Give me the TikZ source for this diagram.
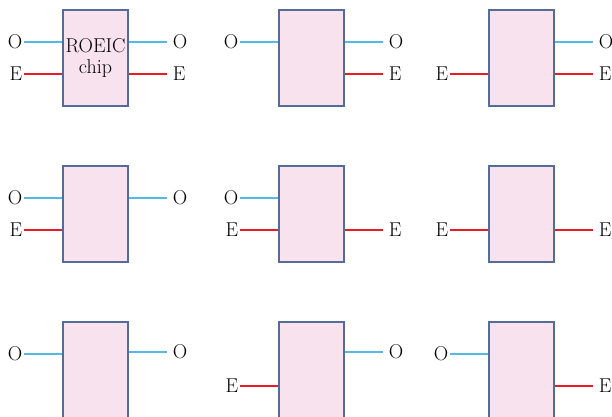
\documentclass[tikz,border=0pt]{standalone}
\usepackage{tikz}
\usetikzlibrary{positioning,calc}
\definecolor{chippink}{RGB}{248,226,238}
\definecolor{chipedge}{RGB}{84,108,152}
\definecolor{ocol}{RGB}{86,184,230}
\definecolor{ecol}{RGB}{232,28,36}
\tikzset{
  chip/.style ={draw=chipedge, fill=chippink, line width=1.2pt, minimum width=65pt, minimum height=96pt, inner sep=0pt, align=center, font=\fontsize{20}{21}\selectfont},
  lbl/.style  ={inner sep=0pt, font=\fontsize{20}{21}\selectfont},
  lin/.style  ={lbl, anchor=east, inner xsep=2pt},
  lout/.style ={lbl, anchor=west, inner xsep=6pt},
  oline/.style={draw=ocol, line width=1.3pt},
  eline/.style={draw=ecol, line width=1.3pt},
}

\begin{document}
\begin{tikzpicture}[x=1pt, y=-1pt]
  \useasboundingbox (0,0) rectangle (612,416);
  \clip (0,0) rectangle (612,416);

  % row 1
  \node[chip] (c11) at (95.5,58)  {ROEIC\\chip};
  \node[chip] (c12) at (311.5,58) {};
  \node[chip] (c13) at (521.5,58) {};

  \node[lin]  (c11-iO) at ($(c11.west)+(-38,-16)$) {O};
  \node[lin]  (c11-iE) at ($(c11.west)+(-38,16)$)  {E};
  \node[lout] (c11-oO) at ($(c11.east)+(38,-16)$)  {O};
  \node[lout] (c11-oE) at ($(c11.east)+(38,16)$)   {E};
  \draw[oline] (c11-iO) -- (c11-iO -| c11.west);
  \draw[eline] (c11-iE) -- (c11-iE -| c11.west);
  \draw[oline] (c11.east |- c11-oO) -- (c11-oO);
  \draw[eline] (c11.east |- c11-oE) -- (c11-oE);

  \node[lin]  (c12-iO) at ($(c12.west)+(-38,-16)$) {O};
  \node[lout] (c12-oO) at ($(c12.east)+(38,-16)$)  {O};
  \node[lout] (c12-oE) at ($(c12.east)+(38,16)$)   {E};
  \draw[oline] (c12-iO) -- (c12-iO -| c12.west);
  \draw[oline] (c12.east |- c12-oO) -- (c12-oO);
  \draw[eline] (c12.east |- c12-oE) -- (c12-oE);

  \node[lin]  (c13-iE) at ($(c13.west)+(-38,16)$)  {E};
  \node[lout] (c13-oO) at ($(c13.east)+(38,-16)$)  {O};
  \node[lout] (c13-oE) at ($(c13.east)+(38,16)$)   {E};
  \draw[eline] (c13-iE) -- (c13-iE -| c13.west);
  \draw[oline] (c13.east |- c13-oO) -- (c13-oO);
  \draw[eline] (c13.east |- c13-oE) -- (c13-oE);

  % row 2
  \node[chip] (c21) at (95.5,214)  {};
  \node[chip] (c22) at (311.5,214) {};
  \node[chip] (c23) at (521.5,214) {};

  \node[lin]  (c21-iO) at ($(c21.west)+(-38,-16)$) {O};
  \node[lin]  (c21-iE) at ($(c21.west)+(-38,16)$)  {E};
  \node[lout] (c21-oO) at ($(c21.east)+(38,-16)$)  {O};
  \draw[oline] (c21-iO) -- (c21-iO -| c21.west);
  \draw[eline] (c21-iE) -- (c21-iE -| c21.west);
  \draw[oline] (c21.east |- c21-oO) -- (c21-oO);

  \node[lin]  (c22-iO) at ($(c22.west)+(-38,-16)$) {O};
  \node[lin]  (c22-iE) at ($(c22.west)+(-38,16)$)  {E};
  \node[lout] (c22-oE) at ($(c22.east)+(38,16)$)   {E};
  \draw[oline] (c22-iO) -- (c22-iO -| c22.west);
  \draw[eline] (c22-iE) -- (c22-iE -| c22.west);
  \draw[eline] (c22.east |- c22-oE) -- (c22-oE);

  \node[lin]  (c23-iE) at ($(c23.west)+(-38,16)$)  {E};
  \node[lout] (c23-oE) at ($(c23.east)+(38,16)$)   {E};
  \draw[eline] (c23-iE) -- (c23-iE -| c23.west);
  \draw[eline] (c23.east |- c23-oE) -- (c23-oE);

  % row 3
  \node[chip] (c31) at (95.5,370)  {};
  \node[chip] (c32) at (311.5,370) {};
  \node[chip] (c33) at (521.5,370) {};

  \node[lin]  (c31-iO) at ($(c31.west)+(-38,-16)$) {O};
  \node[lout] (c31-oO) at ($(c31.east)+(38,-18)$)  {O};
  \draw[oline] (c31-iO) -- (c31-iO -| c31.west);
  \draw[oline] (c31.east |- c31-oO) -- (c31-oO);

  \node[lin]  (c32-iE) at ($(c32.west)+(-38,16)$)  {E};
  \node[lout] (c32-oO) at ($(c32.east)+(38,-18)$)  {O};
  \draw[eline] (c32-iE) -- (c32-iE -| c32.west);
  \draw[oline] (c32.east |- c32-oO) -- (c32-oO);

  \node[lin]  (c33-iO) at ($(c33.west)+(-38,-16)$) {O};
  \node[lout] (c33-oE) at ($(c33.east)+(38,16)$)   {E};
  \draw[oline] (c33-iO) -- (c33-iO -| c33.west);
  \draw[eline] (c33.east |- c33-oE) -- (c33-oE);
\end{tikzpicture}
\end{document}
